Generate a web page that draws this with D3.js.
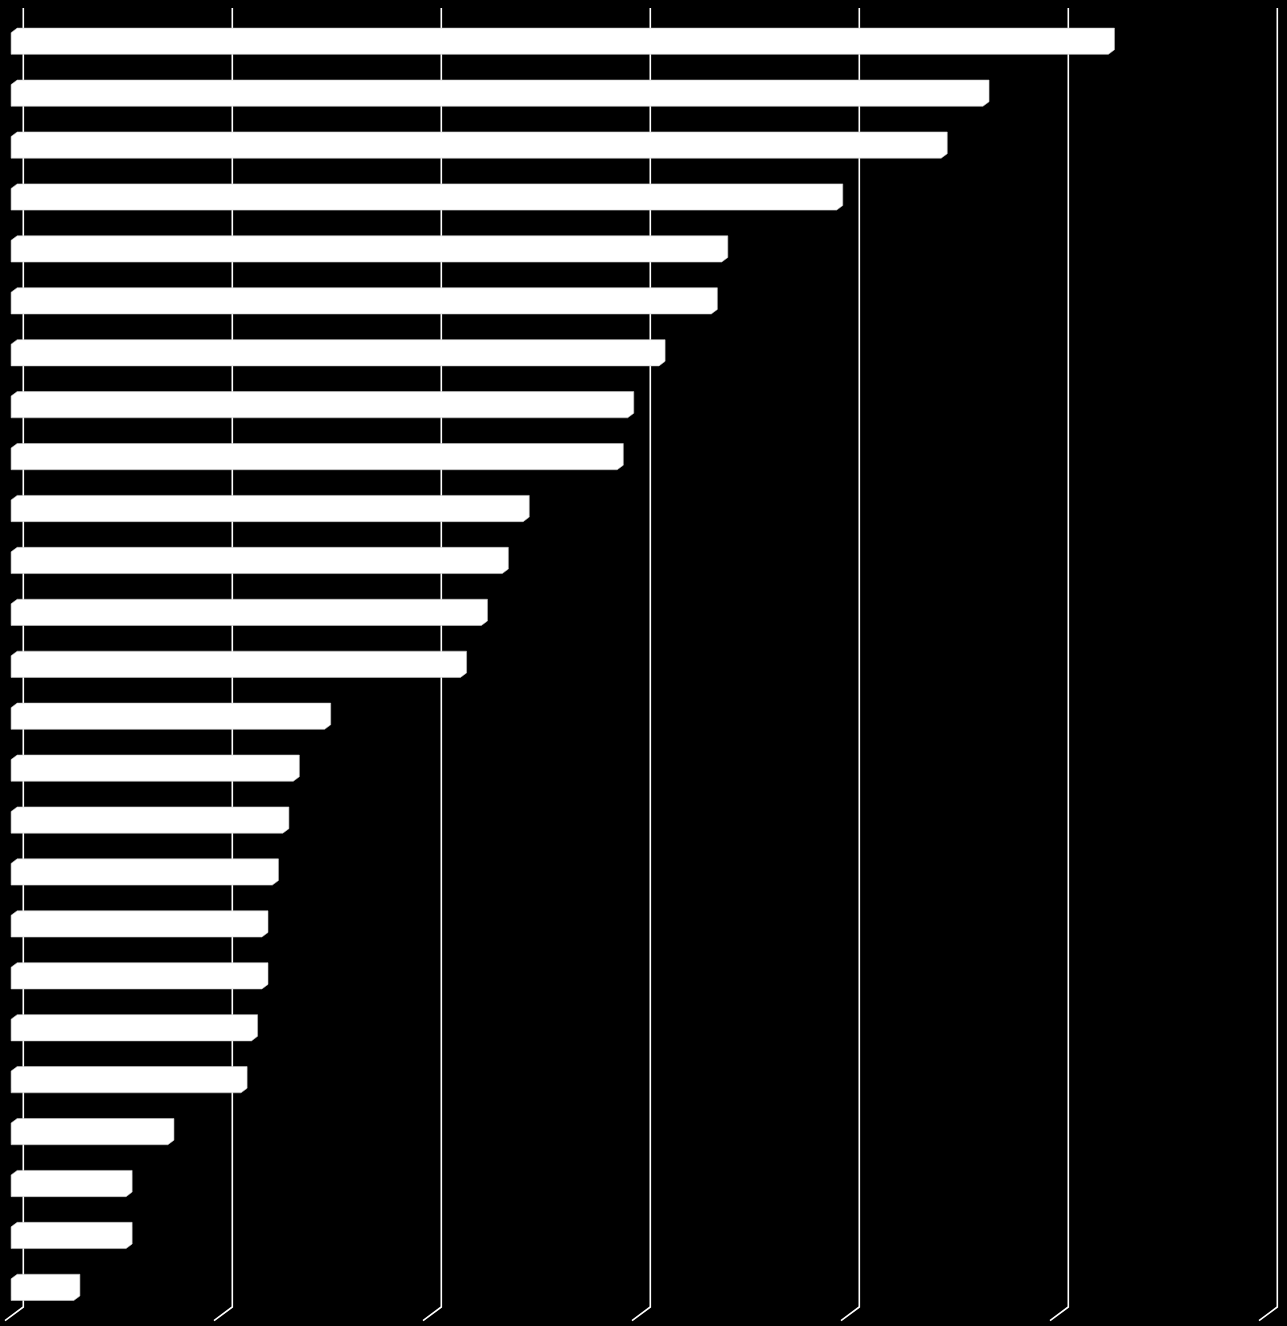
<!DOCTYPE html>
<html lang="en">
<head>
    <meta charset="UTF-8">
    <title>Bar chart</title>
    <script src="https://d3js.org/d3.v7.min.js"></script>
    <style>
        html, body { margin: 0; padding: 0; background: #000; }
        svg { display: block; }
        .grid { stroke: #fff; stroke-width: 1.6px; fill: none; }
        .bar { fill: #fff; stroke: #c8c8c8; stroke-width: 0.6px; }
    </style>
</head>
<body>
    <svg width="1287" height="1326"></svg>
    <script>
        const categories = d3.range(1, 26).map(String);
        const values = [105, 93, 89, 79, 68, 67, 62, 59, 58, 49, 47, 45, 43,
                        30, 27, 26, 25, 24, 24, 23, 22, 15, 11, 11, 6];
        const ticks = [0, 20, 40, 60, 80, 100, 120];

        const svg = d3.select("svg");

        // back wall of the 3d plot
        const x = d3.scaleLinear().domain([0, 120]).range([23.3, 1277.3]);
        const y = d3.scaleBand().domain(categories).range([8, 1307])
            .paddingInner(0.582).paddingOuter(0.3);

        // full depth offset (wall -> front of floor)
        const depthX = -18.3, depthY = 13.6;
        const backD = 1 / 3, frontD = 2 / 3;

        // gridlines on the wall, then down across the floor
        svg.append("g").selectAll("path")
            .data(ticks)
            .enter().append("path")
            .attr("class", "grid")
            .attr("d", d => {
                const gx = x(d);
                return `M${gx},${y.range()[0]}V${y.range()[1]}l${depthX},${depthY}`;
            });

        const bars = categories.map((c, i) => ({ c, v: values[i] }));

        svg.append("g").selectAll("path")
            .data(bars)
            .enter().append("path")
            .attr("class", "bar")
            .attr("d", d => {
                const bx = depthX * backD, by = depthY * backD;
                const fx = depthX * frontD, fy = depthY * frontD;
                const x0 = x(0), x1 = x(d.v);
                const t = y(d.c), b = y(d.c) + y.bandwidth();
                const pts = [
                    [x0 + fx, b + fy],
                    [x0 + fx, t + fy],
                    [x0 + bx, t + by],
                    [x1 + bx, t + by],
                    [x1 + bx, b + by],
                    [x1 + fx, b + fy]
                ];
                return "M" + pts.map(p => p.join(",")).join("L") + "Z";
            });
    </script>
</body>
</html>
